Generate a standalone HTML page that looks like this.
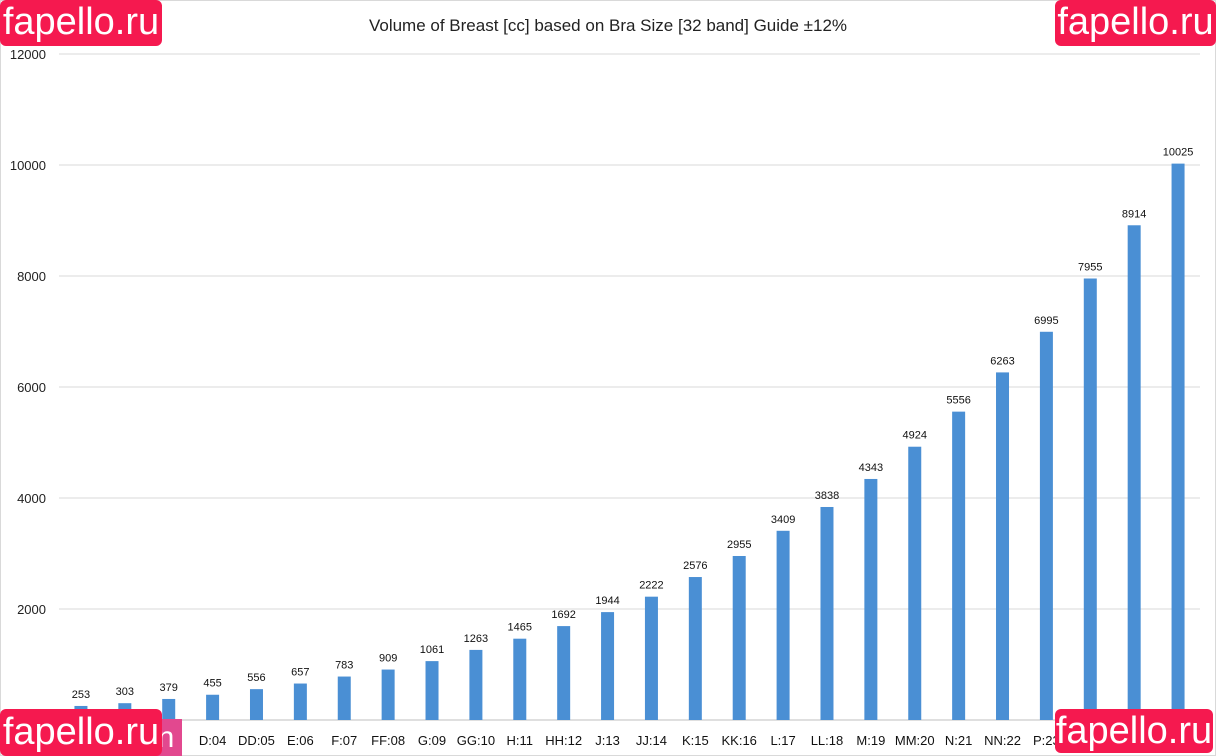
<!DOCTYPE html>
<html><head><meta charset="utf-8"><style>
body{margin:0;width:1216px;height:756px;background:#fff;overflow:hidden;font-family:"Liberation Sans",sans-serif;}
.wm{position:absolute;background:#f5194f;color:#fff;font-size:38px;border-radius:6px;text-align:center;line-height:44px;}
</style></head><body>
<svg id="chart" width="1216" height="756" style="position:absolute;left:0;top:0">
<rect x="0.5" y="0.5" width="1215" height="755" fill="#fff" stroke="#d9d9d9"/>
<text x="608" y="31" text-anchor="middle" font-size="17" fill="#222">Volume of Breast [cc] based on Bra Size [32 band] Guide ±12%</text>
</svg>
<div class="wm" style="left:0;top:0;width:162px;height:46px">fapello.ru</div>
<div class="wm" style="left:1055px;top:0;width:161px;height:46px">fapello.ru</div>
<div class="wm" style="left:150px;top:719px;width:32px;height:37px;background:#e2488f;border-radius:0;line-height:37px;font-size:30px">n</div>
<div class="wm" style="left:0;top:709px;width:162px;height:47px;line-height:47px">fapello.ru</div>
<div class="wm" style="left:1055px;top:709px;width:158px;height:44px">fapello.ru</div>
<script>
const categories=["A:01","B:02","C:03","D:04","DD:05","E:06","F:07","FF:08","G:09","GG:10","H:11","HH:12","J:13","JJ:14","K:15","KK:16","L:17","LL:18","M:19","MM:20","N:21","NN:22","P:23","PP:24","Q:25","QQ:26"];
const values=[253,303,379,455,556,657,783,909,1061,1263,1465,1692,1944,2222,2576,2955,3409,3838,4343,4924,5556,6263,6995,7955,8914,10025];
const yTicks=[0,2000,4000,6000,8000,10000,12000];
const svg=document.getElementById('chart');const NS='http://www.w3.org/2000/svg';
const y0=720,yTop=54,ymax=12000,xL=59,xR=1200;
const y=v=>y0-(y0-yTop)*v/ymax;
const step=(xR-xL)/categories.length;
const x=i=>xL+step*(i+0.5);
function mk(t,a,txt){const e=document.createElementNS(NS,t);for(const k in a)e.setAttribute(k,a[k]);if(txt!==undefined)e.textContent=txt;svg.appendChild(e);return e;}
yTicks.forEach(t=>{
 const l=mk('line',{x1:xL,x2:xR,y1:y(t),y2:y(t),stroke:t===0?'#bfbfbf':'#d9d9d9','stroke-width':1});
 
 
 const tx=mk('text',{x:46,y:y(t)+5,'text-anchor':'end','font-size':13,fill:'#222'},t);
 
 
});
values.forEach((v,i)=>{
 const r=mk('rect',{x:x(i)-6.5,y:y(v),width:13,height:y0-y(v),fill:'#4a8fd4'});
 
 
 const t=mk('text',{x:x(i),y:y(v)-8,'text-anchor':'middle','font-size':11,fill:'#111'},v);
 
 
 const c=mk('text',{x:x(i),y:745,'text-anchor':'middle','font-size':13,fill:'#111'},categories[i]);
 
 
});
</script>
</body></html>
